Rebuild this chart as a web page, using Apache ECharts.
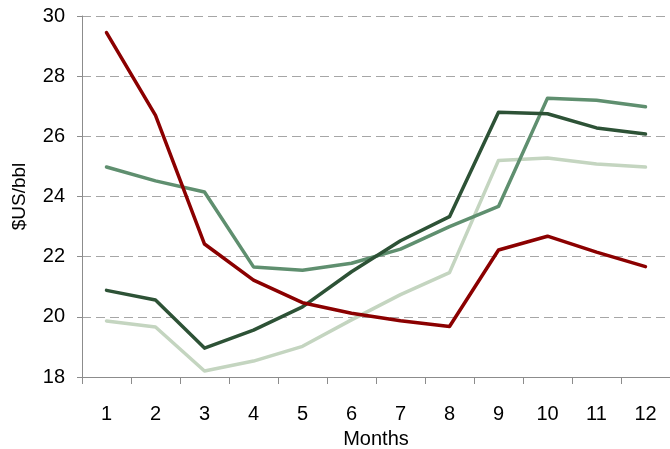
<!DOCTYPE html>
<html>
<head>
<meta charset="utf-8">
<script src="https://cdn.jsdelivr.net/npm/echarts@6/dist/echarts.min.js"></script>
<style>
  html, body { margin: 0; padding: 0; background: #fff; }
  #chart { width: 670px; height: 449px; }
</style>
</head>
<body>
<div id="chart"></div>
<script>
// Months on the category axis
const months = ['1', '2', '3', '4', '5', '6', '7', '8', '9', '10', '11', '12'];

// Monthly prices, $US/bbl
const seriesRed = [29.45, 26.7, 22.42, 21.22, 20.47, 20.12, 19.87, 19.68, 22.22, 22.68, 22.15, 21.67];
const seriesDark = [20.88, 20.56, 18.96, 19.56, 20.33, 21.5, 22.53, 23.33, 26.8, 26.75, 26.28, 26.08];
const seriesMid = [24.98, 24.52, 24.15, 21.66, 21.55, 21.78, 22.25, 23.0, 23.67, 27.27, 27.2, 26.98];
const seriesLight = [19.86, 19.66, 18.2, 18.53, 19.02, 19.9, 20.74, 21.47, 25.2, 25.28, 25.08, 24.98];

// Y-axis range
const yMin = 18, yMax = 30, yStep = 2;

const font = '"Liberation Sans", Arial, sans-serif';

function line(data, color, z) {
  return {
    type: 'line',
    data: data,
    symbol: 'none',
    z: z,
    lineStyle: { color: color, width: 3.5, cap: 'round', join: 'round' },
    itemStyle: { color: color }
  };
}

const chart = echarts.init(document.getElementById('chart'));
chart.setOption({
  animation: false,
  backgroundColor: '#ffffff',
  grid: { left: 82, right: 0, top: 16, bottom: 72, containLabel: false, outerBoundsMode: 'none' },
  xAxis: {
    type: 'category',
    data: months,
    boundaryGap: true,
    name: 'Months',
    nameLocation: 'middle',
    nameGap: 52,
    nameTextStyle: { color: '#000', fontSize: 20, fontFamily: font },
    axisLine: { lineStyle: { color: '#8c8c8c', width: 1 } },
    axisTick: { show: true, length: 7, alignWithLabel: false, lineStyle: { color: '#8c8c8c' } },
    axisLabel: { color: '#000', fontSize: 20, fontFamily: font, margin: 27 },
    splitLine: { show: false }
  },
  yAxis: {
    type: 'value',
    min: yMin,
    max: yMax,
    interval: yStep,
    name: '$US/bbl',
    nameLocation: 'middle',
    nameGap: 53,
    nameRotate: 90,
    nameTextStyle: { color: '#000', fontSize: 19, fontFamily: font },
    axisLine: { show: true, lineStyle: { color: '#8c8c8c', width: 1 } },
    axisTick: { show: true, length: 5, lineStyle: { color: '#8c8c8c' } },
    axisLabel: { color: '#000', fontSize: 20, fontFamily: font, margin: 17 },
    splitLine: { show: true, lineStyle: { color: '#a6a6a6', width: 1, type: [9, 5] } }
  },
  series: [
    line(seriesLight, '#c4d5c0', 2),
    line(seriesMid, '#5f8f6f', 3),
    line(seriesDark, '#2d5236', 4),
    line(seriesRed, '#8b0000', 5)
  ]
});
</script>
</body>
</html>
